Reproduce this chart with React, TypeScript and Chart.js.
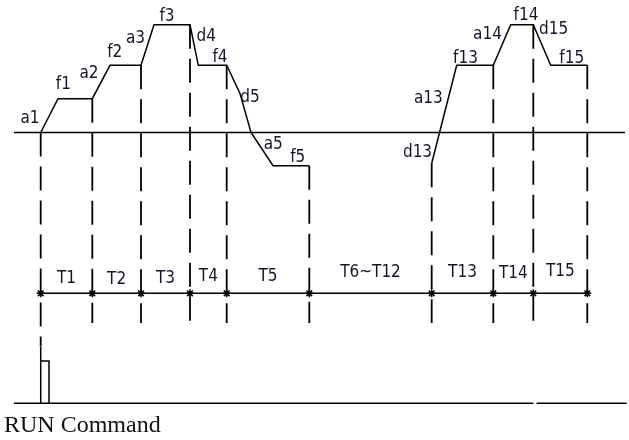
import React, { useEffect, useRef } from "react";
import { Chart, registerables } from "chart.js";

Chart.register(...registerables);

// ---- data (time units along the x axis, frequency units on the y axis) ----
// boundaries between steps (T1 start ... T15 end)
const stepTimes = [40.7, 92.3, 141, 190, 226.7, 309.3, 431.7, 493.3, 533.3, 587.3];
const stepNames = ["T1", "T2", "T3", "T4", "T5", "T6~T12", "T13", "T14", "T15"];

// speed profile, steps 1..5
const profileTimesA = [40.7, 58, 92.3, 110, 141, 154, 190, 198.3, 226.7, 240, 251, 263, 273, 309.3];
const profileFreqA = [0, 33.8, 33.8, 67.2, 67.2, 107.8, 107.8, 67.2, 67.2, 39, 0, -18, -33.2, -33.2];

// speed profile, steps 13..15
const profileTimesB = [431.7, 456.7, 493.3, 510.7, 533.3, 550.7, 587.3];
const profileFreqB = [-30.8, 67.2, 67.2, 107.8, 107.8, 67.2, 67.2];

// level at which each boundary marker begins
const boundaryFreq = [0, 33.8, 67.2, 107.8, 67.2, -33.2, -30.8, 67.2, 107.8, 67.2];

// RUN command signal
const runTimes = [40.7, 40.7, 49, 49];
const runLevels = [0, 1, 1, 0];

// axis extents
const timeAxisStart = 14;
const timeAxisEnd = 625;

// labels on the curve: [text, time, freq]
const curveLabels: [string, number, number][] = [
  ["a1", 30, 13.8],
  ["f1", 63.3, 47.5],
  ["a2", 89, 59.2],
  ["f2", 114.7, 80],
  ["a3", 135.5, 94.2],
  ["f3", 167, 115.8],
  ["d4", 206.3, 95.5],
  ["f4", 220, 75],
  ["d5", 250, 35],
  ["a5", 273.3, -12.5],
  ["f5", 297.7, -25.3],
  ["d13", 417.5, -20.5],
  ["a13", 428.3, 33.5],
  ["f13", 465.5, 74.2],
  ["a14", 487.5, 97.5],
  ["f14", 526, 116.5],
  ["d15", 553.7, 103.2],
  ["f15", 571.7, 74.2],
];
const stepLabelFreq = [-146, -147.5, -146.5, -143.8, -144.2, -140.5, -140.5, -141.2, -138.8];

const Y_TOP = 132.5;
const Y_BOTTOM = Y_TOP - 440;
const DIM_LINE = -160.8;
const DASH_BOTTOM = -190.5;
const FIRST_DASH_BOTTOM = -213.8;

export default function App() {
  const ref = useRef<HTMLCanvasElement>(null);

  useEffect(() => {
    if (!ref.current) return;
    const black = "#000";
    const lineStyle = { showLine: true, pointRadius: 0, borderColor: black, borderWidth: 1.5, fill: false };

    const datasets: any[] = [];
    // time axis
    datasets.push({
      ...lineStyle,
      data: [{ x: timeAxisStart, y: 0 }, { x: timeAxisEnd, y: 0 }],
    });
    // profiles
    datasets.push({
      ...lineStyle,
      data: profileTimesA.map((t, i) => ({ x: t, y: profileFreqA[i] })),
    });
    datasets.push({
      ...lineStyle,
      data: profileTimesB.map((t, i) => ({ x: t, y: profileFreqB[i] })),
    });
    // dashed boundaries
    stepTimes.forEach((t, i) => {
      datasets.push({
        ...lineStyle,
        borderWidth: 1.8,
        borderDash: [24, 10],
        data: [{ x: t, y: boundaryFreq[i] }, { x: t, y: i === 0 ? FIRST_DASH_BOTTOM : DASH_BOTTOM }],
      });
    });
    // dimension line with markers
    datasets.push({
      ...lineStyle,
      pointRadius: 4,
      pointStyle: "star",
      pointBorderColor: black,
      pointBorderWidth: 1.5,
      data: stepTimes.map((t) => ({ x: t, y: DIM_LINE })),
    });
    // RUN command baseline and pulse
    datasets.push({
      ...lineStyle,
      yAxisID: "yRun",
      data: [{ x: timeAxisStart, y: 0 }, { x: 533.5, y: 0 }],
    });
    datasets.push({
      ...lineStyle,
      yAxisID: "yRun",
      data: [{ x: 536.5, y: 0 }, { x: 626.7, y: 0 }],
    });
    datasets.push({
      ...lineStyle,
      yAxisID: "yRun",
      data: [{ x: runTimes[0], y: 1.34 }, ...runTimes.map((t, i) => ({ x: t, y: runLevels[i] }))],
    });

    const labelPlugin = {
      id: "labels",
      afterDatasetsDraw(chart: any) {
        const { ctx, scales } = chart;
        const xs = scales.x;
        const ys = scales.y;
        ctx.save();
        ctx.fillStyle = "#15152a";
        ctx.textAlign = "center";
        ctx.textBaseline = "middle";
        ctx.font = '17px "DejaVu Sans Condensed", "DejaVu Sans", sans-serif';
        curveLabels.forEach(([txt, t, f]) => {
          ctx.fillText(txt, xs.getPixelForValue(t), ys.getPixelForValue(f));
        });
        stepNames.forEach((name, i) => {
          const mid = (stepTimes[i] + stepTimes[i + 1]) / 2;
          ctx.fillText(name, xs.getPixelForValue(mid), ys.getPixelForValue(stepLabelFreq[i]));
        });
        ctx.fillStyle = "#111";
        ctx.textAlign = "left";
        ctx.textBaseline = "alphabetic";
        ctx.font = '24px "Liberation Serif", "Times New Roman", serif';
        ctx.fillText("RUN Command", 4, 431.5);
        ctx.restore();
      },
    };

    const chart = new Chart(ref.current, {
      type: "scatter",
      data: { datasets },
      options: {
        animation: false,
        responsive: false,
        devicePixelRatio: 1,
        layout: { padding: 0, autoPadding: false },
        plugins: { legend: { display: false }, tooltip: { enabled: false } },
        scales: {
          x: { type: "linear", min: 0, max: 629, display: false },
          y: { type: "linear", min: Y_BOTTOM, max: Y_TOP, display: false },
          yRun: { type: "linear", min: -0.8676, max: 9.535, display: false },
        },
      },
      plugins: [labelPlugin],
    });
    return () => chart.destroy();
  }, []);

  return (
    <div style={{ position: "absolute", left: 0, top: 0, width: 629, height: 440, background: "#fff" }}>
      <canvas ref={ref} width={629} height={440} style={{ display: "block" }} />
    </div>
  );
}
